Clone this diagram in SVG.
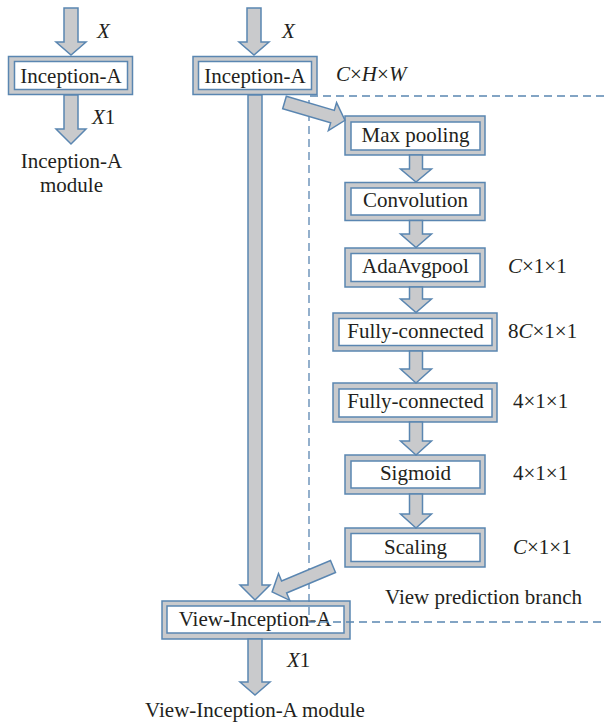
<svg xmlns="http://www.w3.org/2000/svg" width="604" height="724" viewBox="0 0 604 724">
<style>
.bo{fill:#c9cacc;stroke:#5a86b1;stroke-width:1.5}
.bi{fill:#ffffff;stroke:#5a86b1;stroke-width:1.5}
.ar{fill:#c9cacc;stroke:#5a86b1;stroke-width:1.5;stroke-linejoin:miter}
.dash{fill:none;stroke:#5a86b1;stroke-width:1.3;stroke-dasharray:8,5}
text{font-family:'Liberation Serif',Tinos,'Times New Roman','Nimbus Roman','DejaVu Serif',serif;font-size:21px;fill:#231f20}
.c{text-anchor:middle}
.i{font-style:italic}
</style>
<rect width="604" height="724" fill="#ffffff"/>
<g id="inception-a-left">
<rect class="bo" x="8.5" y="56.5" width="124" height="38"/>
<rect class="bi" x="14.5" y="61.5" width="113" height="28"/>
<text class="c" x="71" y="83">Inception-A</text>
</g>
<g id="inception-a-main">
<rect class="bo" x="193" y="56.5" width="124" height="38"/>
<rect class="bi" x="198.5" y="61.5" width="113" height="28"/>
<text class="c" x="255" y="83">Inception-A</text>
</g>
<g id="max-pooling">
<rect class="bo" x="345" y="116" width="140" height="39"/>
<rect class="bi" x="351" y="122" width="129" height="28"/>
<text class="c" x="415.5" y="142">Max pooling</text>
</g>
<g id="convolution">
<rect class="bo" x="345" y="182.5" width="140" height="38"/>
<rect class="bi" x="351" y="188" width="129" height="27"/>
<text class="c" x="415.5" y="207">Convolution</text>
</g>
<g id="adaavgpool">
<rect class="bo" x="345" y="248" width="140" height="39"/>
<rect class="bi" x="351" y="253.5" width="129" height="28"/>
<text class="c" x="415.5" y="273">AdaAvgpool</text>
</g>
<g id="fully-connected-1">
<rect class="bo" x="333" y="313" width="164" height="38"/>
<rect class="bi" x="339" y="318.5" width="153" height="27"/>
<text class="c" x="415.5" y="338">Fully-connected</text>
</g>
<g id="fully-connected-2">
<rect class="bo" x="333" y="383" width="164" height="39"/>
<rect class="bi" x="339" y="389" width="153" height="28"/>
<text class="c" x="415.5" y="408">Fully-connected</text>
</g>
<g id="sigmoid">
<rect class="bo" x="345" y="455" width="140" height="39"/>
<rect class="bi" x="351" y="461" width="129" height="27"/>
<text class="c" x="415.5" y="480">Sigmoid</text>
</g>
<g id="scaling">
<rect class="bo" x="345" y="528" width="140" height="39"/>
<rect class="bi" x="351" y="533.5" width="129" height="28"/>
<text class="c" x="415.5" y="554">Scaling</text>
</g>
<g id="view-inception-a">
<rect class="bo" x="162" y="601" width="188" height="38"/>
<rect class="bi" x="167" y="606" width="177" height="27"/>
<text class="c" x="255" y="626">View-Inception-A</text>
</g>
<g id="branch-frame">
<path class="dash" d="M604,96 H309 V622 H604"/>
</g>
<g id="connectors">
<polygon class="ar" points="64,8 78,8 78,42 86,42 71,55 56,42 64,42"/>
<polygon class="ar" points="64,95 78,95 78,129 86,129 71,144 56,129 64,129"/>
<polygon class="ar" points="247,8 261,8 261,42 269,42 254,55 239,42 247,42"/>
<polygon class="ar" points="248,95 262,95 262,585 270,585 255,600 240,585 248,585"/>
<polygon class="ar" points="248,639 262,639 262,682 270,682 255,695 240,682 248,682"/>
<polygon class="ar" points="409.5,155 422.5,155 422.5,169 431.5,169 416,182 400.5,169 409.5,169"/>
<polygon class="ar" points="409.5,220.5 422.5,220.5 422.5,234 431.5,234 416,247.5 400.5,234 409.5,234"/>
<polygon class="ar" points="409.5,287 422.5,287 422.5,299 431.5,299 416,312.5 400.5,299 409.5,299"/>
<polygon class="ar" points="409.5,351 422.5,351 422.5,369 431.5,369 416,383 400.5,369 409.5,369"/>
<polygon class="ar" points="409.5,422 422.5,422 422.5,441 431.5,441 416,455 400.5,441 409.5,441"/>
<polygon class="ar" points="409.5,494 422.5,494 422.5,514 431.5,514 416,528 400.5,514 409.5,514"/>
<polygon class="ar" transform="translate(284.5,102.5) rotate(16.4)" points="0,-6.5 50,-6.5 50,-14.5 63,0 50,14.5 50,6.5 0,6.5"/>
<polygon class="ar" transform="translate(333,566.5) rotate(157.3)" points="0,-6.5 53,-6.5 53,-14.5 66,0 53,14.5 53,6.5 0,6.5"/>
</g>
<g id="labels">
<text class="i" x="97" y="38">X</text>
<text x="92" y="124"><tspan class="i">X</tspan>1</text>
<text class="c" x="71.5" y="168">Inception-A</text>
<text class="c" x="71.5" y="192">module</text>
<text class="i" x="282" y="38">X</text>
<text x="336" y="81"><tspan class="i">C</tspan>×<tspan class="i">H</tspan>×<tspan class="i">W</tspan></text>
<text x="508" y="273"><tspan class="i">C</tspan>×1×1</text>
<text x="508" y="338">8<tspan class="i">C</tspan>×1×1</text>
<text x="513" y="408">4×1×1</text>
<text x="513" y="480">4×1×1</text>
<text x="513" y="554"><tspan class="i">C</tspan>×1×1</text>
<text x="385" y="604">View prediction branch</text>
<text x="287" y="667"><tspan class="i">X</tspan>1</text>
<text class="c" x="255" y="717">View-Inception-A module</text>
</g>
</svg>
